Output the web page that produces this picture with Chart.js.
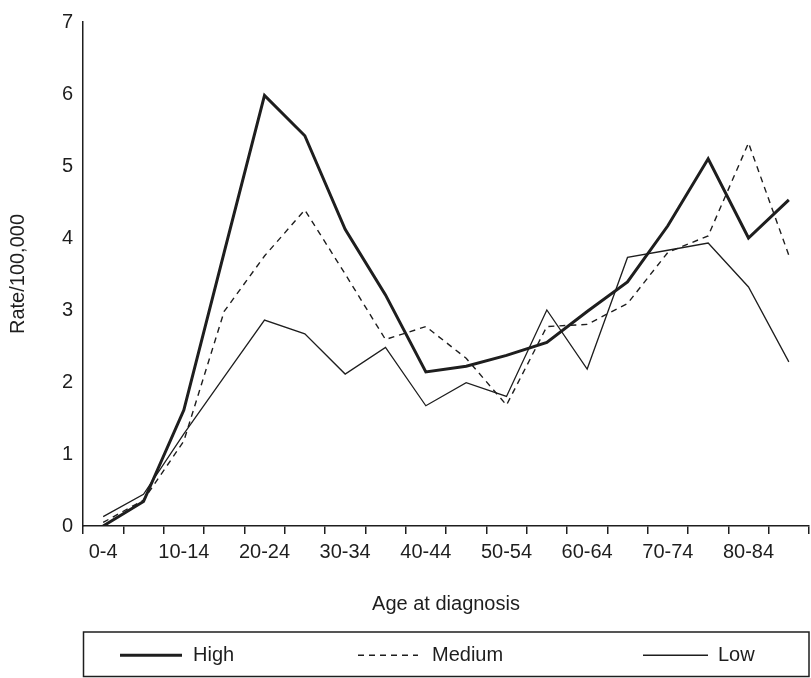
<!DOCTYPE html>
<html>
<head>
<meta charset="utf-8">
<style>
  html, body { margin: 0; padding: 0; background: #ffffff; }
  #wrap { width: 811px; height: 678px; }
</style>
<script src="https://cdn.jsdelivr.net/npm/chart.js@4.4.1/dist/chart.umd.min.js"></script>
</head>
<body>
<div id="wrap"><canvas id="chart" width="811" height="678"></canvas></div>
<script>
// Age groups at diagnosis (five-year bands)
const ageGroups = ['0-4', '5-9', '10-14', '15-19', '20-24', '25-29', '30-34', '35-39', '40-44',
                   '45-49', '50-54', '55-59', '60-64', '65-69', '70-74', '75-79', '80-84', '85+'];

// Incidence rate per 100,000 by group
const high   = [0.00, 0.34, 1.61, 3.80, 5.98, 5.42, 4.12, 3.21, 2.14, 2.22, 2.37, 2.55, 2.98, 3.39, 4.17, 5.10, 4.00, 4.53];
const medium = [0.05, 0.36, 1.18, 2.98, 3.75, 4.39, 3.50, 2.59, 2.77, 2.33, 1.68, 2.77, 2.80, 3.09, 3.80, 4.03, 5.32, 3.76];
const low    = [0.13, 0.44, 1.28, 2.07, 2.86, 2.67, 2.11, 2.48, 1.67, 1.99, 1.80, 3.00, 2.18, 3.73, 3.83, 3.93, 3.32, 2.28];

const seriesNames = ['High', 'Medium', 'Low'];
const yMin = 0, yMax = 7, yStep = 1;

const ink = '#1e1e1e';
const fontFamily = '"Liberation Sans", Arial, Helvetica, sans-serif';

// Boxed legend drawn beneath the axis title
const boxedLegend = {
  id: 'boxedLegend',
  afterDraw(chart, args, opts) {
    const ctx = chart.ctx;
    const left = chart.chartArea.left + 0.5;
    const right = chart.chartArea.right;
    const top = opts.top, bottom = opts.bottom;
    ctx.save();
    ctx.strokeStyle = ink;
    ctx.lineWidth = 1.5;
    ctx.setLineDash([]);
    ctx.strokeRect(left, top, right - left, bottom - top);
    const midY = (top + bottom) / 2 + 1;
    ctx.font = '20px ' + fontFamily;
    ctx.fillStyle = ink;
    ctx.textBaseline = 'middle';
    ctx.textAlign = 'left';
    chart.data.datasets.forEach((ds, i) => {
      const it = opts.items[i];
      ctx.beginPath();
      ctx.strokeStyle = ds.borderColor;
      ctx.lineWidth = ds.borderWidth;
      ctx.setLineDash(ds.borderDash || []);
      ctx.moveTo(it.x0, midY);
      ctx.lineTo(it.x1, midY);
      ctx.stroke();
      ctx.setLineDash([]);
      ctx.fillText(ds.label, it.tx, midY);
    });
    ctx.restore();
  }
};

new Chart(document.getElementById('chart'), {
  type: 'line',
  data: {
    labels: ageGroups,
    datasets: [
      { label: seriesNames[0], data: high,   borderColor: ink, borderWidth: 3,   pointRadius: 0, tension: 0, fill: false, borderJoinStyle: 'miter' },
      { label: seriesNames[1], data: medium, borderColor: ink, borderWidth: 1.4, borderDash: [6, 5], pointRadius: 0, tension: 0, fill: false },
      { label: seriesNames[2], data: low,    borderColor: ink, borderWidth: 1.3, pointRadius: 0, tension: 0, fill: false }
    ]
  },
  options: {
    responsive: false,
    animation: false,
    devicePixelRatio: 1,
    layout: { padding: { top: 18, right: 2, bottom: 62, left: 0 } },
    plugins: {
      legend: { display: false },
      tooltip: { enabled: false },
      boxedLegend: {
        top: 632, bottom: 676.5,
        items: [
          { x0: 120, x1: 182, tx: 193 },
          { x0: 358, x1: 418, tx: 432 },
          { x0: 643, x1: 708, tx: 718 }
        ]
      }
    },
    scales: {
      x: {
        type: 'category',
        offset: true,
        grid: { display: true, drawOnChartArea: false, offset: true, tickLength: 8, color: ink, lineWidth: 1.5 },
        border: { display: true, color: ink, width: 1.5 },
        ticks: {
          autoSkip: false, maxRotation: 0, minRotation: 0, padding: 6,
          color: ink, font: { family: fontFamily, size: 20 },
          callback: (v, i) => (i % 2 === 0 ? ageGroups[i] : '')
        },
        title: { display: true, text: 'Age at diagnosis', color: ink, font: { family: fontFamily, size: 20 }, padding: { top: 0, bottom: 0 } },
        afterFit: (s) => { s.height = 90; }
      },
      y: {
        min: yMin, max: yMax,
        grid: { display: false, drawTicks: false, tickLength: 0 },
        border: { display: true, color: ink, width: 1.5 },
        ticks: { stepSize: yStep, padding: 10, color: ink, font: { family: fontFamily, size: 20 } },
        title: { display: true, text: 'Rate/100,000', color: ink, font: { family: fontFamily, size: 20 }, padding: { top: 6, bottom: 0 } },
        afterFit: (s) => { s.width = 83; }
      }
    }
  },
  plugins: [boxedLegend]
});
</script>
</body>
</html>
